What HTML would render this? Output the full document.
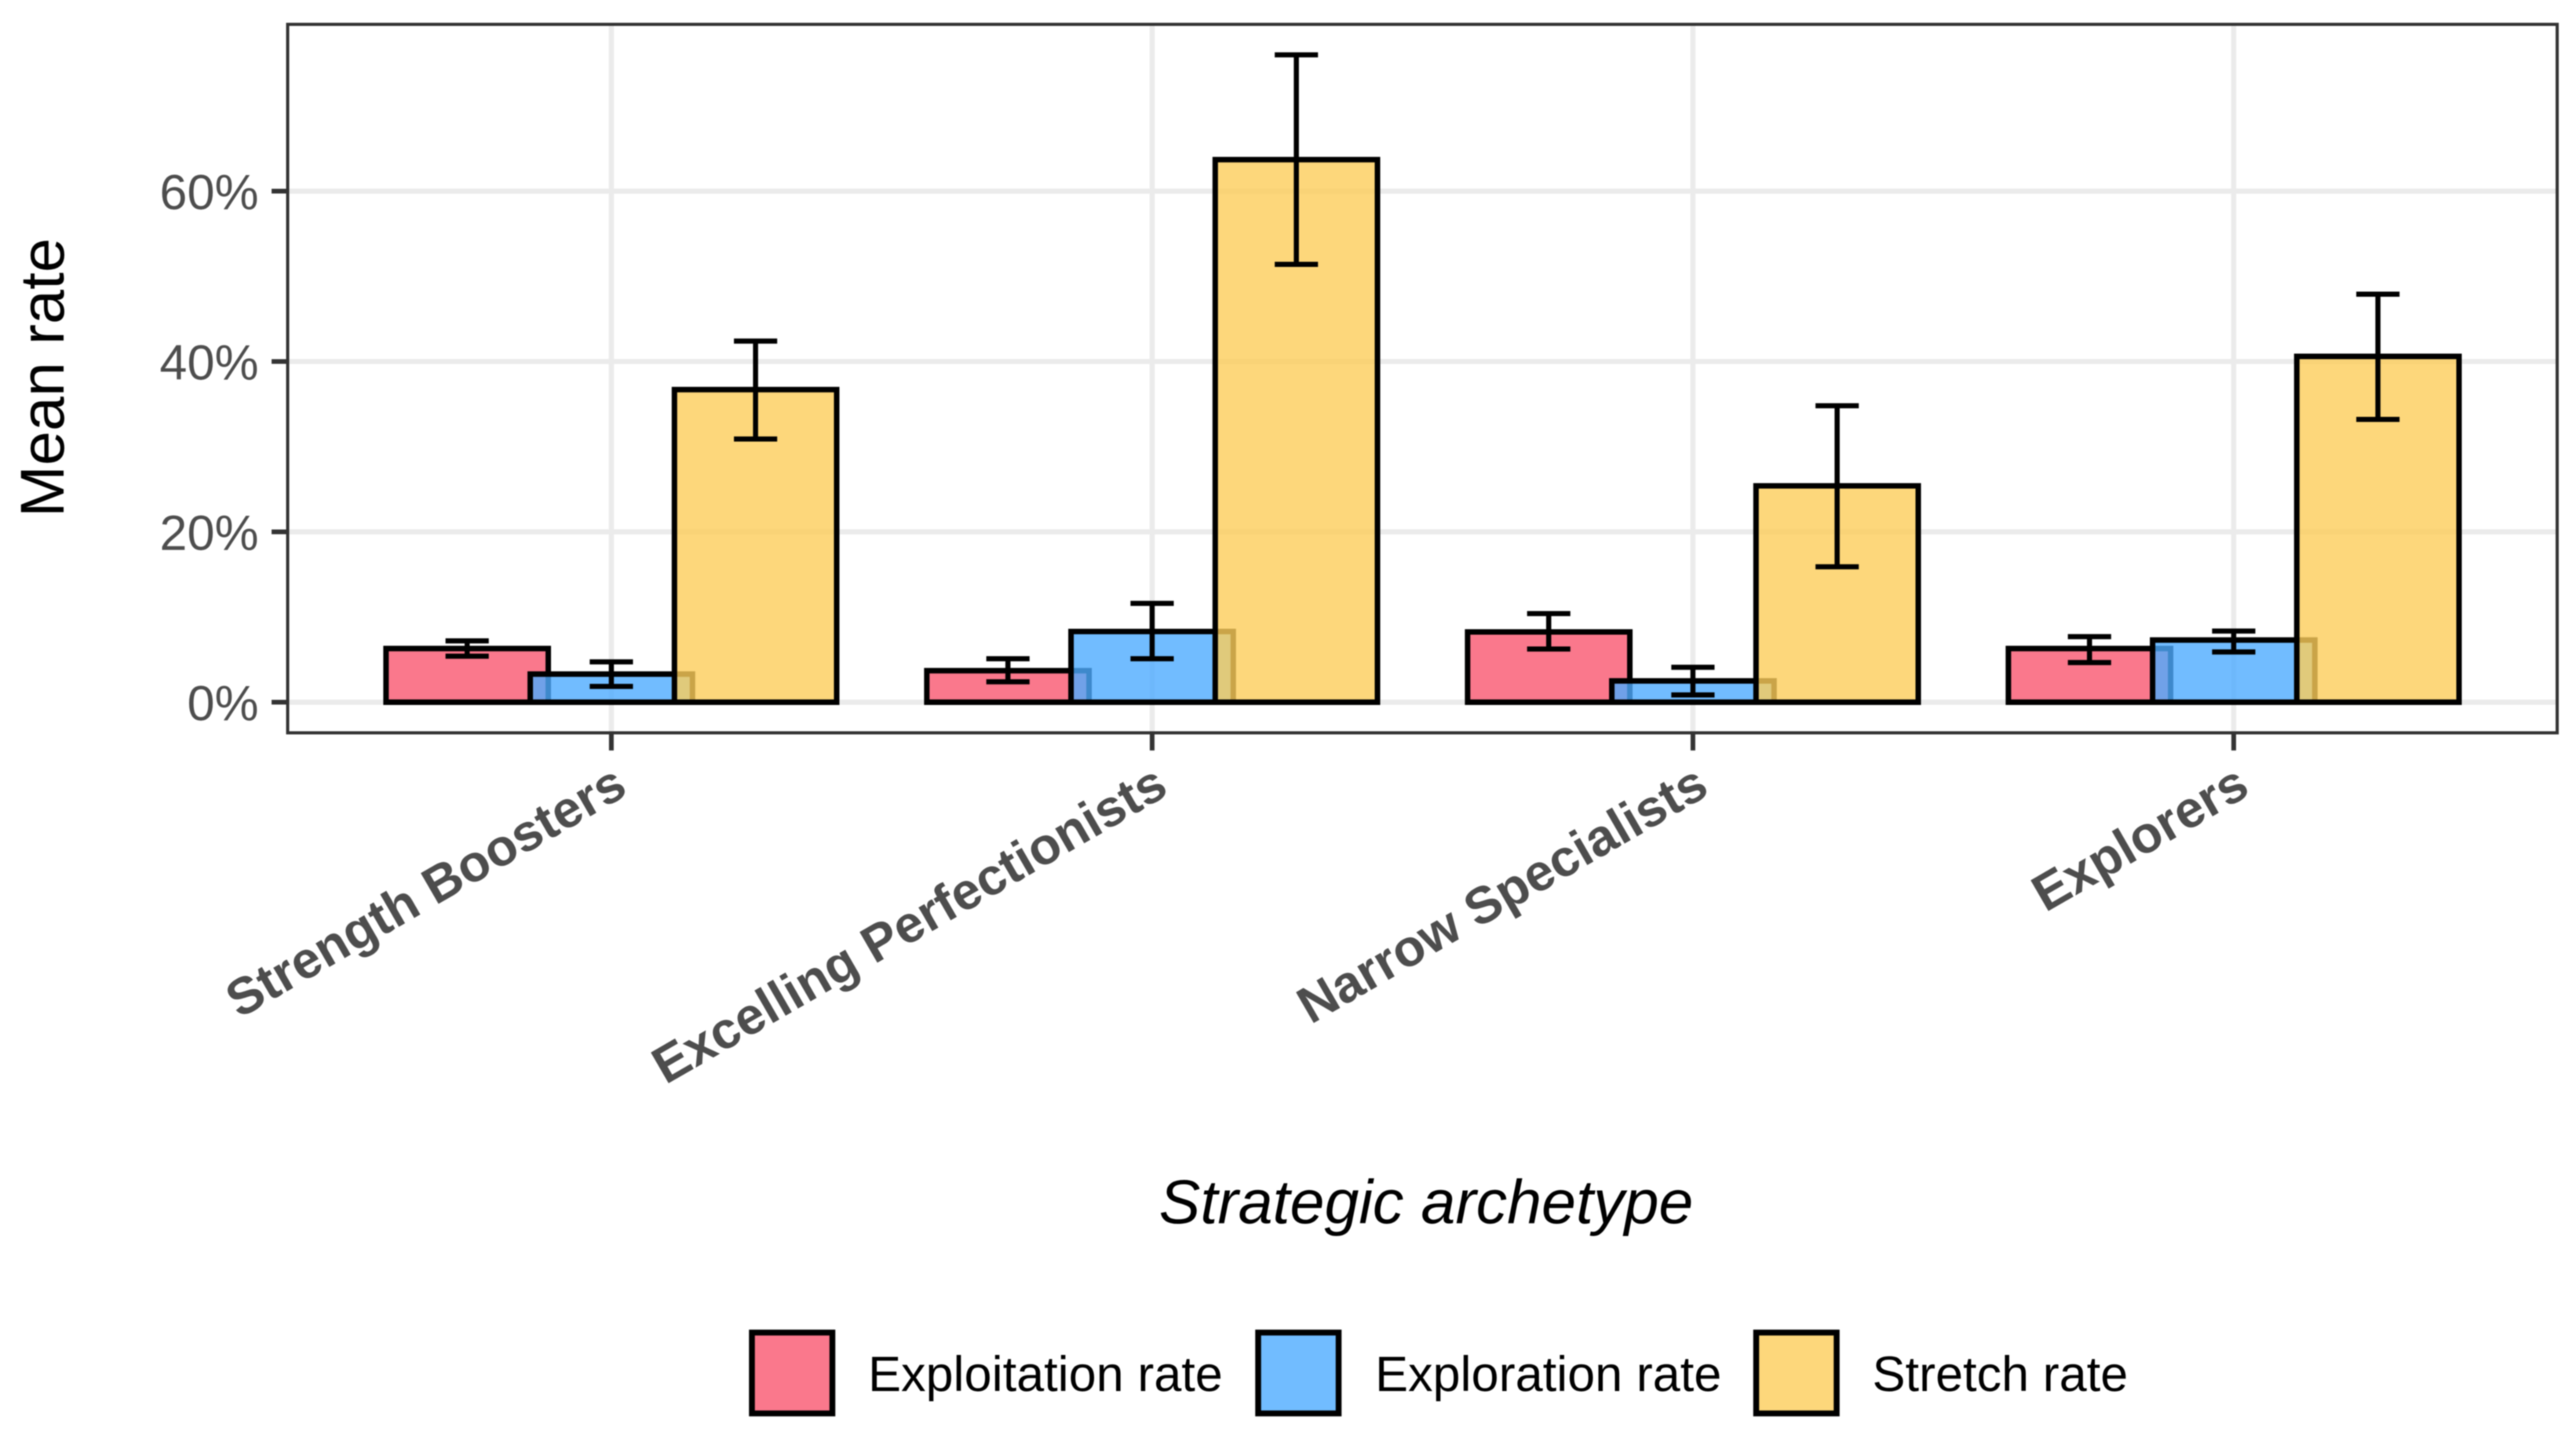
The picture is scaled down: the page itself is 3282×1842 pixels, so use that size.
<!DOCTYPE html>
<html lang="en">
<head>
<meta charset="utf-8">
<title>Mean rate by strategic archetype</title>
<style>
  html, body { margin: 0; padding: 0; background: #fff; }
  body { width: 3282px; height: 1842px; overflow: hidden; }
  svg { display: block; filter: blur(0.7px); font-family: "Liberation Sans", Arial, sans-serif; }
</style>
</head>
<body>
<svg id="chart" xmlns="http://www.w3.org/2000/svg" width="3282" height="1842" viewBox="0 0 3282 1842">
  <rect x="0" y="0" width="3282" height="1842" fill="#ffffff"/>
  <g id="grid"></g>
  <g id="bars"></g>
  <g id="errors"></g>
  <rect x="366.5" y="31" width="2891.5" height="902.5" fill="none" stroke="#333333" stroke-width="4"/>
  <g id="axes"></g>
  <text transform="translate(81 481) rotate(-90)" text-anchor="middle" font-size="79" fill="#000000">Mean rate</text>
  <text x="1817" y="1558" text-anchor="middle" font-size="79" font-style="italic" fill="#000000">Strategic archetype</text>
  <g>
    <g>
      <rect x="958" y="1697.5" width="102.5" height="103" fill="#f9566f" fill-opacity="0.8" stroke="#000000" stroke-width="7.5"/>
      <text x="1106" y="1772" font-size="63" fill="#000000">Exploitation rate</text>
    </g>
    <g>
      <rect x="1603" y="1697.5" width="102.5" height="103" fill="#4dabff" fill-opacity="0.8" stroke="#000000" stroke-width="7.5"/>
      <text x="1752" y="1772" font-size="63" fill="#000000">Exploration rate</text>
    </g>
    <g>
      <rect x="2237.5" y="1697.5" width="102.5" height="103" fill="#fdcd5a" fill-opacity="0.8" stroke="#000000" stroke-width="7.5"/>
      <text x="2385.5" y="1772" font-size="63" fill="#000000">Stretch rate</text>
    </g>
  </g>
</svg>
<script>
// Chart data (percent)
const categories = ["Strength Boosters", "Excelling Perfectionists", "Narrow Specialists", "Explorers"];
const seriesNames = ["exploitation", "exploration", "stretch"];
const exploitationMean = [6.3, 3.7, 8.25, 6.3];
const exploitationLow = [5.4, 2.4, 6.25, 4.65];
const exploitationHigh = [7.2, 5.1, 10.4, 7.7];
const explorationMean = [3.3, 8.3, 2.5, 7.3];
const explorationLow = [1.85, 5.1, 0.85, 5.9];
const explorationHigh = [4.73, 11.6, 4.1, 8.35];
const stretchMean = [36.7, 63.7, 25.4, 40.6];
const stretchLow = [30.9, 51.4, 15.9, 33.2];
const stretchHigh = [42.4, 76.0, 34.8, 47.9];
const yTickValues = [0, 20, 40, 60];
const yTickLabels = ["0%", "20%", "40%", "60%"];

const NS = "http://www.w3.org/2000/svg";
const panelLeft = 366.5, panelRight = 3258, panelTop = 31, panelBottom = 933.5;
const unit = 689;
const barWidth = 0.3 * unit;
const dodge = 0.8 / 3 * unit;
const capWidth = 0.08 * unit;
const fills = ["#f9566f", "#4dabff", "#fdcd5a"];
const means = [exploitationMean, explorationMean, stretchMean];
const lows = [exploitationLow, explorationLow, stretchLow];
const highs = [exploitationHigh, explorationHigh, stretchHigh];

function xScale(i) { return 778.9 + i * unit; }
function yScale(v) { return 894.5 - v * 10.85; }
function mk(tag, attrs, parent) {
  const el = document.createElementNS(NS, tag);
  for (const k in attrs) el.setAttribute(k, attrs[k]);
  parent.appendChild(el);
  return el;
}

const grid = document.getElementById("grid");
const bars = document.getElementById("bars");
const errors = document.getElementById("errors");
const axes = document.getElementById("axes");
const gridStyle = { stroke: "#ebebeb", "stroke-width": 6.5 };

yTickValues.forEach(function (v, t) {
  const y = yScale(v);
  const line = mk("line", Object.assign({ x1: panelLeft, x2: panelRight, y1: y, y2: y }, gridStyle), grid);
  
  
  const tick = mk("line", { x1: 346, x2: panelLeft, y1: y, y2: y, stroke: "#333333", "stroke-width": 6 }, axes);
  
  
  const label = mk("text", { x: 329.5, y: y + 23, "text-anchor": "end", "font-size": 63, fill: "#4d4d4d" }, axes);
  
  
  label.textContent = yTickLabels[t];
});

categories.forEach(function (name, i) {
  const cx = xScale(i);
  const vline = mk("line", Object.assign({ x1: cx, x2: cx, y1: panelTop, y2: panelBottom }, gridStyle), grid);
  
  
  const tick = mk("line", { x1: cx, x2: cx, y1: panelBottom, y2: 956, stroke: "#333333", "stroke-width": 6 }, axes);
  
  
  const label = mk("text", { transform: "translate(" + (cx + 23) + " 1011) rotate(-30)", "text-anchor": "end", "font-size": 65.8, "font-weight": "bold", fill: "#4d4d4d" }, axes);
  
  
  label.textContent = name;
});

seriesNames.forEach(function (s, k) {
  categories.forEach(function (name, i) {
    const c = xScale(i) + (k - 1) * dodge;
    const top = yScale(means[k][i]);
    const bar = mk("rect", { x: c - barWidth / 2, y: top, width: barWidth, height: yScale(0) - top, fill: fills[k], "fill-opacity": 0.8, stroke: "#000000", "stroke-width": 7 }, bars);
    
    
    const yl = yScale(lows[k][i]), yh = yScale(highs[k][i]);
    const g = mk("g", { stroke: "#000000", "stroke-width": 6.5, fill: "none" }, errors);
    
    
    mk("line", { x1: c, x2: c, y1: yl, y2: yh }, g);
    mk("line", { x1: c - capWidth / 2, x2: c + capWidth / 2, y1: yl, y2: yl }, g);
    mk("line", { x1: c - capWidth / 2, x2: c + capWidth / 2, y1: yh, y2: yh }, g);
  });
});
</script>
</body>
</html>
